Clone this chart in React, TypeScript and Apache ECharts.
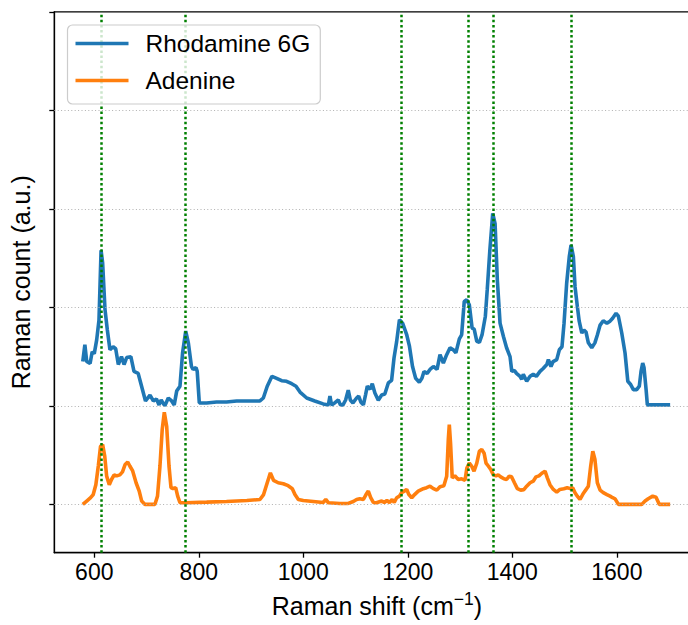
import React, { useEffect, useRef } from "react";
import * as echarts from "echarts";

const rhodamineShift = [578, 582, 585.5, 592, 596, 600, 604.6, 609, 613, 616, 620.5, 625, 630, 636, 641, 646, 652, 657, 662, 670, 676, 684, 689, 698, 706.6, 713, 719, 724, 728, 735, 741.6, 748, 753, 757.7, 764, 769, 775, 780, 786, 789, 794.6, 797, 801, 815, 834, 853, 872.5, 892, 917, 923.5, 931, 940, 949, 958.6, 968, 977.8, 986, 993.7, 1006.5, 1022, 1038, 1048, 1051, 1054, 1060, 1067, 1071, 1076, 1081, 1086, 1090, 1095, 1102, 1106, 1110, 1115, 1119, 1122.5, 1128, 1132, 1137, 1143.5, 1150, 1156, 1162.7, 1169, 1173.6, 1178.7, 1184, 1190, 1198, 1203, 1209, 1215, 1222, 1227, 1231, 1237, 1242.5, 1249, 1256, 1261.6, 1268, 1274.4, 1280.8, 1287, 1292, 1298.6, 1303, 1308, 1312.7, 1317.7, 1323, 1327, 1332, 1337, 1342, 1348.4, 1352, 1357, 1362.5, 1367, 1371.3, 1376.5, 1383, 1389, 1395.6, 1399, 1404, 1408, 1414.7, 1418, 1421, 1427.5, 1434, 1440, 1446, 1453, 1459, 1466, 1469, 1474, 1478, 1485, 1490, 1495, 1499, 1504, 1509, 1512.4, 1516.8, 1520, 1524.4, 1528, 1533, 1537, 1541, 1545.5, 1552, 1558, 1562.7, 1568, 1574, 1581, 1587, 1592, 1598.5, 1603, 1609.4, 1615.7, 1621, 1626, 1631.6, 1638, 1643, 1646.3, 1649.5, 1652, 1656, 1658.4, 1702];
const rhodamineCount = [1.45, 1.62, 1.45, 1.43, 1.55, 1.53, 1.67, 1.87, 2.58, 2.45, 1.98, 1.77, 1.57, 1.6, 1.58, 1.42, 1.5, 1.42, 1.49, 1.5, 1.35, 1.33, 1.23, 1.05, 1.11, 1.05, 1.07, 1.01, 1.06, 1.0, 1.08, 1.05, 1.01, 1.15, 1.2, 1.54, 1.76, 1.64, 1.4, 1.37, 1.39, 1.35, 1.03, 1.03, 1.04, 1.04, 1.05, 1.05, 1.05, 1.08, 1.2, 1.3, 1.28, 1.256, 1.25, 1.225, 1.2, 1.14, 1.08, 1.05, 1.02, 1.01, 1.1, 1.01, 1.03, 1.06, 1.01, 1.01, 1.06, 1.16, 1.06, 1.03, 1.08, 1.1, 1.04, 1.01, 1.11, 1.2, 1.17, 1.225, 1.13, 1.057, 1.11, 1.12, 1.233, 1.26, 1.486, 1.655, 1.874, 1.84, 1.72, 1.61, 1.4, 1.28, 1.24, 1.28, 1.35, 1.33, 1.37, 1.4, 1.37, 1.52, 1.435, 1.52, 1.59, 1.57, 1.54, 1.68, 1.72, 2.06, 2.077, 2.026, 1.79, 1.78, 1.655, 1.645, 1.72, 1.91, 2.18, 2.58, 2.955, 2.85, 2.28, 1.84, 1.705, 1.59, 1.5, 1.35, 1.36, 1.33, 1.3, 1.27, 1.32, 1.25, 1.3, 1.32, 1.3, 1.35, 1.38, 1.42, 1.47, 1.4, 1.45, 1.47, 1.57, 1.6, 1.84, 2.245, 2.515, 2.634, 2.515, 2.21, 2.01, 1.86, 1.74, 1.77, 1.75, 1.64, 1.59, 1.64, 1.72, 1.82, 1.864, 1.84, 1.86, 1.89, 1.94, 1.91, 1.74, 1.537, 1.25, 1.22, 1.165, 1.165, 1.2, 1.35, 1.435, 1.39, 1.165, 1.01, 1.01];

const adenineShift = [578, 585.5, 593, 598, 603, 607.7, 612, 616, 620, 623.7, 628.7, 633, 638, 643, 649, 654, 659, 664, 668, 673.5, 680, 686, 690.7, 697, 716, 721, 725.7, 730, 734, 738.6, 743, 746.8, 750.6, 755.8, 759.6, 764, 776, 815, 853, 892, 917, 924, 931, 937, 943, 952, 961.7, 971, 979, 984, 990.4, 1000, 1019, 1038, 1043, 1048, 1070, 1086, 1095.7, 1102, 1108, 1115, 1120, 1124.4, 1129, 1134, 1140, 1150, 1155, 1160, 1165, 1170, 1174, 1178.7, 1184, 1188, 1193, 1198, 1202, 1207.5, 1213, 1220, 1229.7, 1236, 1242.5, 1249, 1255.5, 1261.6, 1269, 1274.4, 1277.5, 1279.4, 1281.8, 1285, 1290, 1296.6, 1303, 1309.5, 1313, 1317.7, 1322, 1326.7, 1332, 1337, 1341.5, 1346, 1349.7, 1354, 1358.7, 1363.7, 1369, 1373, 1377.7, 1384, 1389, 1394, 1398.5, 1404, 1409.6, 1416, 1422, 1427.5, 1434, 1440, 1445.4, 1451, 1456, 1462.6, 1467, 1472, 1478.5, 1485, 1491, 1498.6, 1505, 1510.4, 1515.5, 1520, 1524.4, 1529.5, 1534.6, 1539, 1545.5, 1550, 1554, 1558, 1562.7, 1568, 1574, 1581, 1587, 1592, 1596.7, 1603, 1647.6, 1654, 1660, 1668.7, 1675, 1681.4, 1702];
const adenineCount = [0.0, 0.034, 0.068, 0.1, 0.2, 0.39, 0.59, 0.608, 0.49, 0.287, 0.2, 0.253, 0.3, 0.29, 0.3, 0.33, 0.405, 0.43, 0.39, 0.34, 0.22, 0.135, 0.034, 0.0, 0.0, 0.084, 0.39, 0.76, 0.935, 0.79, 0.39, 0.17, 0.16, 0.17, 0.084, 0.017, 0.017, 0.023, 0.03, 0.04, 0.05, 0.1, 0.22, 0.32, 0.245, 0.22, 0.21, 0.19, 0.16, 0.1, 0.05, 0.04, 0.03, 0.02, 0.05, 0.017, 0.01, 0.01, 0.03, 0.05, 0.057, 0.05, 0.1, 0.135, 0.068, 0.02, 0.017, 0.034, 0.02, 0.04, 0.02, 0.05, 0.02, 0.068, 0.084, 0.118, 0.135, 0.152, 0.1, 0.068, 0.1, 0.135, 0.16, 0.17, 0.185, 0.16, 0.145, 0.18, 0.19, 0.287, 0.66, 0.81, 0.62, 0.27, 0.29, 0.253, 0.26, 0.245, 0.37, 0.42, 0.39, 0.338, 0.42, 0.54, 0.557, 0.52, 0.42, 0.39, 0.355, 0.3, 0.29, 0.3, 0.28, 0.26, 0.253, 0.287, 0.28, 0.22, 0.16, 0.145, 0.15, 0.185, 0.22, 0.236, 0.28, 0.29, 0.314, 0.338, 0.27, 0.2, 0.152, 0.125, 0.152, 0.16, 0.17, 0.16, 0.17, 0.118, 0.084, 0.05, 0.1, 0.135, 0.185, 0.39, 0.54, 0.46, 0.22, 0.145, 0.12, 0.1, 0.084, 0.068, 0.057, 0.0, 0.0, 0.034, 0.057, 0.084, 0.074, 0.0, 0.0];

const peakLines = [613, 775, 1187, 1315, 1364, 1513];
const xTicks = [600, 800, 1000, 1200, 1400, 1600];
const yTicks = [0, 1, 2, 3, 4, 5];
const yGrid = [0, 1, 2, 3, 4];

const FONT = "'Liberation Sans', Arial, Helvetica, sans-serif";

function zip(xs: number[], ys: number[]) {
  return xs.map((x, i) => [x, ys[i]]);
}

export default function App() {
  const ref = useRef<HTMLDivElement>(null);
  useEffect(() => {
    if (!ref.current) return;
    const chart = echarts.init(ref.current, null, { renderer: "svg" });
    chart.setOption({
      animation: false,
      textStyle: { fontFamily: FONT },
      grid: {
        left: 54.3,
        right: 0.6,
        top: 11.8,
        bottom: 72.3,
        show: true,
        borderColor: "#000",
        borderWidth: 1.3,
        backgroundColor: "transparent",
      },
      legend: {
        data: ["Rhodamine 6G", "Adenine"],
        orient: "vertical",
        left: 67.5,
        top: 25,
        padding: [6, 10, 11, 8],
        icon: "rect",
        itemWidth: 53,
        itemHeight: 3.6,
        itemGap: 12,
        backgroundColor: "rgba(255,255,255,0.8)",
        borderColor: "#cccccc",
        borderWidth: 1.2,
        borderRadius: 5,
        textStyle: {
          fontSize: 24.5,
          fontFamily: FONT,
          color: "#000",
          lineHeight: 24,
          padding: [0, 0, 0, 12],
        },
        z: 10,
      },
      xAxis: {
        type: "value",
        min: 523.5,
        max: 1758,
        name: "Raman shift (cm{sup|−1})",
        nameLocation: "middle",
        nameGap: 37,
        nameTextStyle: {
          fontSize: 25,
          color: "#000",
          fontFamily: FONT,
          rich: {
            sup: { fontSize: 17.5, fontFamily: FONT, color: "#000", padding: [0, 0, 14, 0] },
          },
        },
        axisLine: { onZero: false, lineStyle: { color: "#000", width: 1.3 } },
        axisTick: { customValues: xTicks, length: 5, lineStyle: { color: "#000", width: 1.3 } },
        axisLabel: {
          customValues: xTicks,
          fontSize: 23,
          color: "#000",
          margin: 8,
          fontFamily: FONT,
          formatter: (v: number) => String(v),
        },
        splitLine: { show: false },
      },
      yAxis: {
        type: "value",
        min: -0.49,
        max: 5,
        name: "Raman count (a.u.)",
        nameLocation: "middle",
        nameGap: 21,
        nameTextStyle: { fontSize: 25, color: "#000", fontFamily: FONT },
        axisLine: { onZero: false, lineStyle: { color: "#000", width: 1.3 } },
        axisTick: { customValues: yTicks, length: 5, lineStyle: { color: "#000", width: 1.3 } },
        axisLabel: { show: false },
        splitLine: { show: false },
      },
      series: [
        {
          name: "grid",
          type: "line",
          data: [],
          silent: true,
          z: 1,
          markLine: {
            silent: true,
            symbol: "none",
            label: { show: false },
            lineStyle: { color: "#b0b0b0", width: 1, type: [1, 2.4] },
            data: yGrid.map((v) => ({ yAxis: v })),
          },
        },
        {
          name: "Rhodamine 6G",
          type: "line",
          data: zip(rhodamineShift, rhodamineCount),
          showSymbol: false,
          symbol: "none",
          lineStyle: { color: "#1f77b4", width: 3.6 },
          itemStyle: { color: "#1f77b4" },
          z: 3,
        },
        {
          name: "Adenine",
          type: "line",
          data: zip(adenineShift, adenineCount),
          showSymbol: false,
          symbol: "none",
          lineStyle: { color: "#ff7f0e", width: 3.6 },
          itemStyle: { color: "#ff7f0e" },
          z: 3,
        },
        {
          name: "peaks",
          type: "line",
          data: [],
          silent: true,
          z: 5,
          markLine: {
            silent: true,
            symbol: "none",
            label: { show: false },
            lineStyle: { color: "#008000", width: 2.5, type: [2.5, 2.6] },
            data: peakLines.map((v) => ({ xAxis: v })),
          },
        },
      ],
    });
    return () => chart.dispose();
  }, []);
  return (
    <div
      style={{
        position: "fixed",
        left: 0,
        top: 0,
        width: 688,
        height: 625,
        overflow: "hidden",
        background: "#fff",
      }}
    >
      <div ref={ref} style={{ width: 700, height: 625 }} />
    </div>
  );
}
